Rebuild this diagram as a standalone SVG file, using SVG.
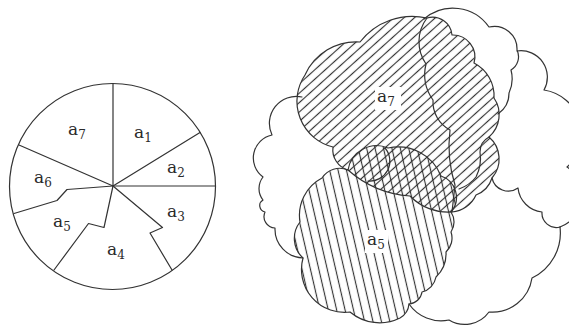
<svg xmlns="http://www.w3.org/2000/svg" width="569" height="327" viewBox="0 0 569 327">
<style>
.ln{fill:none;stroke:#333;stroke-width:1.2;stroke-linejoin:round;stroke-linecap:round}
.lbl{font-family:"DejaVu Serif","Liberation Serif",serif;font-size:17px;fill:#2a2a2a}
.sub{font-size:12px}
.bg{fill:#fff}
</style>
<defs>
<pattern id="hd" patternUnits="userSpaceOnUse" width="12" height="7" patternTransform="rotate(-42)">
<line x1="-1" y1="3.5" x2="13" y2="3.5" stroke="#333" stroke-width="1.15"/>
</pattern>
<pattern id="hv" patternUnits="userSpaceOnUse" width="8.2" height="12" patternTransform="rotate(-13)">
<line x1="4.1" y1="-1" x2="4.1" y2="13" stroke="#333" stroke-width="1.15"/>
</pattern>
</defs>

<g id="pie">
<circle class="ln" cx="112.5" cy="186.5" r="103"/>
<path class="ln" d="M113,186 V83.5"/>
<path class="ln" d="M113,186 L200,132.5"/>
<path class="ln" d="M113,186 H215.5"/>
<path class="ln" d="M113,186 L19,145"/>
<path class="ln" d="M113,186 L67,189.5 L62,195 L57,200.5 L14,213.5"/>
<path class="ln" d="M113,186 L104,227.5 L88.5,223.5 L54,270"/>
<path class="ln" d="M113,186 L162.5,227.5 L150,233 L172,270"/>
<text class="lbl" x="68" y="135">a<tspan class="sub" dy="4">7</tspan></text>
<text class="lbl" x="134" y="138">a<tspan class="sub" dy="4">1</tspan></text>
<text class="lbl" x="167" y="173">a<tspan class="sub" dy="4">2</tspan></text>
<text class="lbl" x="34" y="183">a<tspan class="sub" dy="4">6</tspan></text>
<text class="lbl" x="167" y="217">a<tspan class="sub" dy="4">3</tspan></text>
<text class="lbl" x="53" y="227">a<tspan class="sub" dy="4">5</tspan></text>
<text class="lbl" x="107" y="255">a<tspan class="sub" dy="4">4</tspan></text>
</g>

<g id="clouds-white">
<path class="ln" d="M302,97 A27,27 0 0 0 272,135 A23.5,23.5 0 0 0 263,177 A18.5,18.5 0 0 0 263,200 A6.5,6.5 0 0 0 265,212 A11.4,11.4 0 0 0 275,228 A29,29 0 0 0 303,258"/>
<path class="ln" d="M424,19 A44,44 0 0 1 489,27 A22.7,22.7 0 0 1 517,50 A15.5,15.5 0 0 1 511,70 A34,34 0 0 1 509,93 A25,25 0 0 1 498,114"/>
<path class="ln" d="M517,51 A26.4,26.4 0 0 1 544,90 A44.5,44.5 0 0 1 567,167 A34,34 0 0 1 560,227"/>
<path class="ln" d="M492,178 A16.7,16.7 0 0 0 518,188 A27,27 0 0 0 542,212 A14.4,14.4 0 0 0 560,227"/>
<path class="ln" d="M409,304 A39,39 0 0 0 449,320 A30,30 0 0 0 489,312 A40,40 0 0 0 532,278 A50,50 0 0 0 560,227"/>
</g>

<g id="a7-cloud">
<path id="a7fill" fill="url(#hd)" d="M348,170 A21,21 0 0 1 333,147 A47,47 0 0 1 305,75 A56,56 0 0 1 360,42 A66,66 0 0 1 427,18 A39,39 0 0 0 426,64 A44,44 0 0 0 433,100 A32,32 0 0 0 450,130 A130,130 0 0 0 455,185 L452,212 A53,53 0 0 1 410,196 A105,105 0 0 1 348,170 Z"/>
<path id="rfill" fill="url(#hd)" d="M427,18 A19.6,19.6 0 0 1 452,35 A22,22 0 0 1 474,63 A37,37 0 0 1 494,98 A29.6,29.6 0 0 1 489,137 A29,29 0 0 1 492,178 A27,27 0 0 1 476,195 A29,29 0 0 1 452,212 L455,185 A130,130 0 0 1 450,130 A32,32 0 0 1 433,100 A44,44 0 0 1 426,64 A39,39 0 0 1 427,18 Z"/>
</g>
<g id="a5-cloud">
<path id="a5fill" fill="url(#hv)" d="M303,258 A26.6,26.6 0 0 1 300,222 A42,42 0 0 1 322,178 A21,21 0 0 1 348,170 A29,29 0 0 1 388,148 A46,46 0 0 1 441,176 A22.5,22.5 0 0 1 451,212 A18,18 0 0 1 451,232 A19,19 0 0 1 446,252 A32,32 0 0 1 436,277 A19,19 0 0 1 422,292 A14,14 0 0 1 409,304 A18,18 0 0 1 400,318 A46,46 0 0 1 350,312 A43,43 0 0 1 303,258 Z"/>
</g>

<g id="labels-bg">
<rect class="bg" x="375" y="87" width="26" height="23"/>
<rect class="bg" x="365" y="230" width="23" height="23"/>
</g>

<g id="outlines">
<path class="ln" d="M348,170 A21,21 0 0 1 333,147 A47,47 0 0 1 305,75 A56,56 0 0 1 360,42 A66,66 0 0 1 427,18 A39,39 0 0 0 426,64 A44,44 0 0 0 433,100 A32,32 0 0 0 450,130 A130,130 0 0 0 455,185 L452,212 A53,53 0 0 1 410,196 A105,105 0 0 1 348,170 Z"/>
<path class="ln" d="M427,18 A19.6,19.6 0 0 1 452,35 A22,22 0 0 1 474,63 A37,37 0 0 1 494,98 A29.6,29.6 0 0 1 489,137 A29,29 0 0 1 492,178 A27,27 0 0 1 476,195 A29,29 0 0 1 452,212"/>
<path class="ln" d="M303,258 A26.6,26.6 0 0 1 300,222 A42,42 0 0 1 322,178 A21,21 0 0 1 348,170 A29,29 0 0 1 388,148 A46,46 0 0 1 441,176 A22.5,22.5 0 0 1 451,212 A18,18 0 0 1 451,232 A19,19 0 0 1 446,252 A32,32 0 0 1 436,277 A19,19 0 0 1 422,292 A14,14 0 0 1 409,304 A18,18 0 0 1 400,318 A46,46 0 0 1 350,312 A43,43 0 0 1 303,258 Z"/>
<path class="ln" d="M368,181 A20,20 0 0 0 385,148"/>
<path class="ln" d="M489,137 Q480,142 480,152 Q482,165 476,177 Q470,185 459,189"/>
</g>

<g id="right-labels">
<text class="lbl" x="377" y="102">a<tspan class="sub" dy="4">7</tspan></text>
<text class="lbl" x="367" y="245">a<tspan class="sub" dy="4">5</tspan></text>
</g>
</svg>
